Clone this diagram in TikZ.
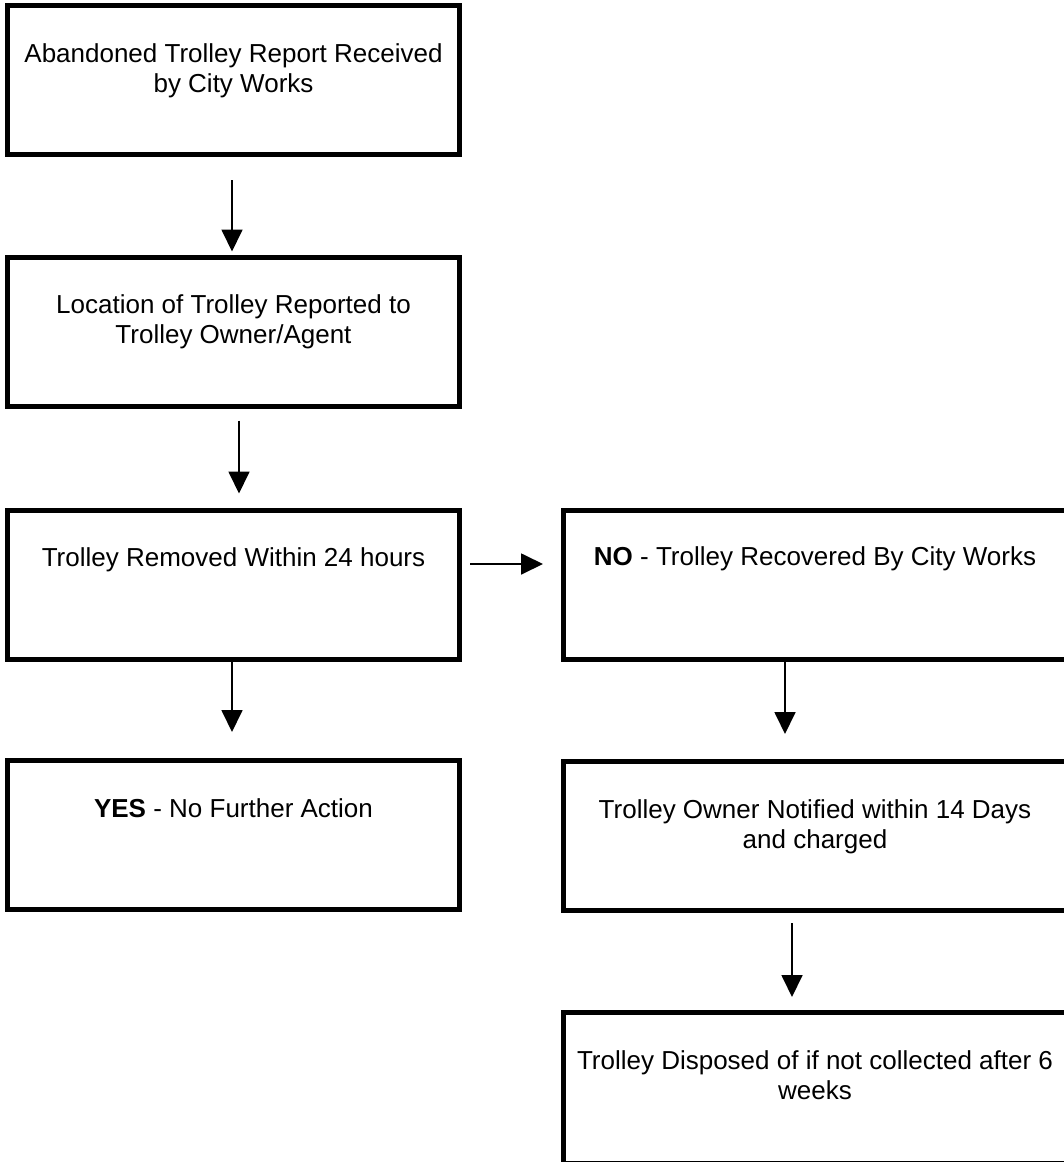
\documentclass[tikz,border=0pt]{standalone}
\usepackage{fontspec}
\setmainfont{Liberation Sans}
\usetikzlibrary{arrows.meta, positioning}

\begin{document}
\begin{tikzpicture}[x=1pt, y=-1pt,
  >={Triangle[length=22pt, width=21pt]},
  box/.style={draw, line width=5pt, rectangle, minimum height=149pt, inner sep=0pt},
  lbox/.style={box, minimum width=452pt},
  rbox/.style={box, minimum width=503pt},
  txt/.style={inner sep=0pt, align=center, font=\fontsize{26}{30}\selectfont},
  flow/.style={->, line width=1.8pt}]
  \useasboundingbox (0,0) rectangle (1063,1162);
  % boxes
  \node[lbox] (report)   at (233.5,80)   {};
  \node[lbox] (location) at (233.5,331.5) {};
  \node[lbox] (removed)  at (233.5,584.5) {};
  \node[lbox] (yes)      at (233.5,835)  {};
  \node[rbox] (no)       at (815,584.5)  {};
  \node[rbox] (notified) at (815,836)    {};
  \node[rbox, minimum height=151pt] (disposed) at (815,1088) {};
  % texts
  \node[txt, below=40pt of report.north]   (reporttxt)   {Abandoned Trolley Report Received\\by City Works};
  \node[txt, below=40pt of location.north] (locationtxt) {Location of Trolley Reported to\\Trolley Owner/Agent};
  \node[txt, below=40pt of removed.north]  (removedtxt)  {Trolley Removed Within 24 hours};
  \node[txt, below=40pt of yes.north]      (yestxt)      {\textbf{YES} - No Further Action};
  \node[txt, below=39pt of no.north]       (notxt)       {\textbf{NO} - Trolley Recovered By City Works};
  \node[txt, below=40pt of notified.north] (notifiedtxt) {Trolley Owner Notified within 14 Days\\and charged};
  \node[txt, below=40pt of disposed.north] (disposedtxt) {Trolley Disposed of if not collected after 6\\weeks};
  % arrows
  \draw[flow] ([xshift=-1.5pt, yshift=-23pt]report.south) -- ([xshift=-1.5pt, yshift=3pt]location.north);
  \draw[flow] ([xshift=5.5pt, yshift=-12pt]location.south) -- ([xshift=5.5pt, yshift=14pt]removed.north);
  \draw[flow] ([xshift=8pt, yshift=20.5pt]removed.east) -- ([xshift=-18pt, yshift=20.5pt]no.west);
  \draw[flow] ([xshift=-1.5pt]removed.south) -- ([xshift=-1.5pt, yshift=26pt]yes.north);
  \draw[flow] ([xshift=-30pt]no.south) -- ([xshift=-30pt, yshift=25pt]notified.north);
  \draw[flow] ([xshift=-23pt, yshift=-10pt]notified.south) -- ([xshift=-23pt, yshift=13pt]disposed.north);
\end{tikzpicture}
\end{document}
